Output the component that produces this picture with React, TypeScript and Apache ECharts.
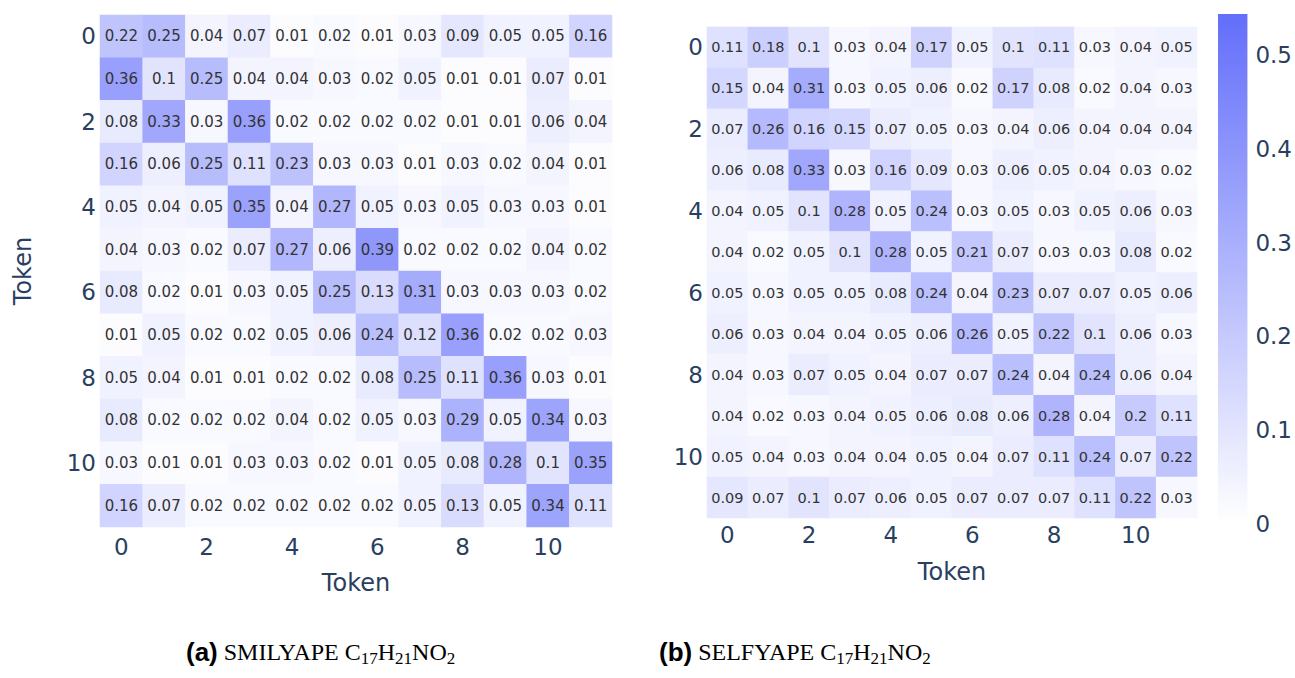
import React, { useEffect, useRef } from "react";
import * as echarts from "echarts";

const tokens = ["0", "1", "2", "3", "4", "5", "6", "7", "8", "9", "10", "11"];

const smilyape: number[][] = [
  [0.22, 0.25, 0.04, 0.07, 0.01, 0.02, 0.01, 0.03, 0.09, 0.05, 0.05, 0.16],
  [0.36, 0.1, 0.25, 0.04, 0.04, 0.03, 0.02, 0.05, 0.01, 0.01, 0.07, 0.01],
  [0.08, 0.33, 0.03, 0.36, 0.02, 0.02, 0.02, 0.02, 0.01, 0.01, 0.06, 0.04],
  [0.16, 0.06, 0.25, 0.11, 0.23, 0.03, 0.03, 0.01, 0.03, 0.02, 0.04, 0.01],
  [0.05, 0.04, 0.05, 0.35, 0.04, 0.27, 0.05, 0.03, 0.05, 0.03, 0.03, 0.01],
  [0.04, 0.03, 0.02, 0.07, 0.27, 0.06, 0.39, 0.02, 0.02, 0.02, 0.04, 0.02],
  [0.08, 0.02, 0.01, 0.03, 0.05, 0.25, 0.13, 0.31, 0.03, 0.03, 0.03, 0.02],
  [0.01, 0.05, 0.02, 0.02, 0.05, 0.06, 0.24, 0.12, 0.36, 0.02, 0.02, 0.03],
  [0.05, 0.04, 0.01, 0.01, 0.02, 0.02, 0.08, 0.25, 0.11, 0.36, 0.03, 0.01],
  [0.08, 0.02, 0.02, 0.02, 0.04, 0.02, 0.05, 0.03, 0.29, 0.05, 0.34, 0.03],
  [0.03, 0.01, 0.01, 0.03, 0.03, 0.02, 0.01, 0.05, 0.08, 0.28, 0.1, 0.35],
  [0.16, 0.07, 0.02, 0.02, 0.02, 0.02, 0.02, 0.05, 0.13, 0.05, 0.34, 0.11],
];

const selfyape: number[][] = [
  [0.11, 0.18, 0.1, 0.03, 0.04, 0.17, 0.05, 0.1, 0.11, 0.03, 0.04, 0.05],
  [0.15, 0.04, 0.31, 0.03, 0.05, 0.06, 0.02, 0.17, 0.08, 0.02, 0.04, 0.03],
  [0.07, 0.26, 0.16, 0.15, 0.07, 0.05, 0.03, 0.04, 0.06, 0.04, 0.04, 0.04],
  [0.06, 0.08, 0.33, 0.03, 0.16, 0.09, 0.03, 0.06, 0.05, 0.04, 0.03, 0.02],
  [0.04, 0.05, 0.1, 0.28, 0.05, 0.24, 0.03, 0.05, 0.03, 0.05, 0.06, 0.03],
  [0.04, 0.02, 0.05, 0.1, 0.28, 0.05, 0.21, 0.07, 0.03, 0.03, 0.08, 0.02],
  [0.05, 0.03, 0.05, 0.05, 0.08, 0.24, 0.04, 0.23, 0.07, 0.07, 0.05, 0.06],
  [0.06, 0.03, 0.04, 0.04, 0.05, 0.06, 0.26, 0.05, 0.22, 0.1, 0.06, 0.03],
  [0.04, 0.03, 0.07, 0.05, 0.04, 0.07, 0.07, 0.24, 0.04, 0.24, 0.06, 0.04],
  [0.04, 0.02, 0.03, 0.04, 0.05, 0.06, 0.08, 0.06, 0.28, 0.04, 0.2, 0.11],
  [0.05, 0.04, 0.03, 0.04, 0.04, 0.05, 0.04, 0.07, 0.11, 0.24, 0.07, 0.22],
  [0.09, 0.07, 0.1, 0.07, 0.06, 0.05, 0.07, 0.07, 0.07, 0.11, 0.22, 0.03],
];

const colorMin = 0;
const colorMax = 0.5436;
const colorTickInterval = 0.1;

const INK = "#2a3f5f";
const CELL_INK = "#333333";
const FONT = "DejaVu Sans";

function toCells(m: number[][]) {
  const out: [number, number, number][] = [];
  m.forEach((row, r) => row.forEach((v, c) => out.push([c, r, v])));
  return out;
}

export default function App() {
  const ref = useRef<HTMLDivElement>(null);
  useEffect(() => {
    if (!ref.current) return;
    const chart = echarts.init(ref.current, null, { renderer: "svg" });

    const catX = (gridIndex: number, gap: number, margin: number) => ({
      type: "category",
      gridIndex,
      data: tokens,
      axisLine: { show: false },
      axisTick: { show: false },
      splitLine: { show: false },
      axisLabel: { interval: 1, fontSize: 23, color: INK, fontFamily: FONT, margin },
      name: "Token",
      nameLocation: "middle",
      nameGap: gap,
      nameTextStyle: { fontSize: 24, color: INK, fontFamily: FONT },
    });
    const catY = (gridIndex: number, margin: number, withName: boolean) => ({
      type: "category",
      gridIndex,
      data: tokens,
      inverse: true,
      axisLine: { show: false },
      axisTick: { show: false },
      splitLine: { show: false },
      axisLabel: { interval: 1, fontSize: 23, color: INK, fontFamily: FONT, margin },
      name: withName ? "Token" : "",
      nameLocation: "middle",
      nameGap: 65,
      nameTextStyle: { fontSize: 24, color: INK, fontFamily: FONT },
    });

    const heat = (idx: number, m: number[][], fs: number) => ({
      type: "heatmap",
      xAxisIndex: idx,
      yAxisIndex: idx,
      data: toCells(m),
      label: {
        show: true,
        fontSize: fs,
        color: CELL_INK,
        fontFamily: FONT,
        formatter: (p: any) => String(p.value[2]),
      },
      itemStyle: { borderWidth: 0 },
      emphasis: { disabled: true },
    });

    const captionRich = {
      b: { fontFamily: "Liberation Sans", fontWeight: "bold", fontSize: 26, fill: "#000" },
      s: { fontFamily: "Liberation Serif", fontSize: 24, fill: "#000" },
      sub: { fontFamily: "Liberation Serif", fontSize: 17, fill: "#000", padding: [12, 0, 0, 0] },
    };

    const option: any = {
      animation: false,
      backgroundColor: "#ffffff",
      grid: [
        { left: 100, top: 15, width: 512, height: 512 },
        { left: 707, top: 27, width: 490, height: 491 },
        { left: 1218, top: 14, width: 36, height: 510 },
      ],
      xAxis: [
        catX(0, 44, 8),
        catX(1, 42, 5),
        { type: "category", gridIndex: 2, data: ["scale"], show: false },
      ],
      yAxis: [
        catY(0, 4, true),
        catY(1, 4, false),
        {
          type: "value",
          gridIndex: 2,
          position: "right",
          min: colorMin,
          max: colorMax,
          interval: colorTickInterval,
          axisLine: { show: false },
          axisTick: { show: false },
          splitLine: { show: false },
          axisLabel: {
            fontSize: 23,
            color: INK,
            fontFamily: FONT,
            margin: 8,
            showMaxLabel: false,
            formatter: (v: number) => String(Math.round(v * 10) / 10),
          },
        },
      ],
      visualMap: {
        type: "continuous",
        show: false,
        min: colorMin,
        max: colorMax,
        seriesIndex: [0, 1],
        inRange: { color: ["#ffffff", "#636efa"] },
      },
      series: [
        heat(0, smilyape, 15),
        heat(1, selfyape, 14.5),
        {
          type: "bar",
          xAxisIndex: 2,
          yAxisIndex: 2,
          data: [colorMax],
          barWidth: "100%",
          itemStyle: {
            color: new echarts.graphic.LinearGradient(0, 0, 0, 1, [
              { offset: 0, color: "#636efa" },
              { offset: 1, color: "#ffffff" },
            ]),
          },
          silent: true,
        },
      ],
      graphic: [
        {
          type: "text",
          x: 186,
          y: 652,
          style: {
            text: "{b|(a)}{s| SMILYAPE C}{sub|17}{s|H}{sub|21}{s|NO}{sub|2}",
            align: "left",
            verticalAlign: "middle",
            rich: captionRich,
          },
        },
        {
          type: "text",
          x: 659,
          y: 652,
          style: {
            text: "{b|(b)}{s| SELFYAPE C}{sub|17}{s|H}{sub|21}{s|NO}{sub|2}",
            align: "left",
            verticalAlign: "middle",
            rich: captionRich,
          },
        },
      ],
    };
    chart.setOption(option);
    return () => chart.dispose();
  }, []);
  return (
    <div
      ref={ref}
      style={{ position: "fixed", left: 0, top: 0, width: 1295, height: 678, background: "#fff" }}
    />
  );
}
